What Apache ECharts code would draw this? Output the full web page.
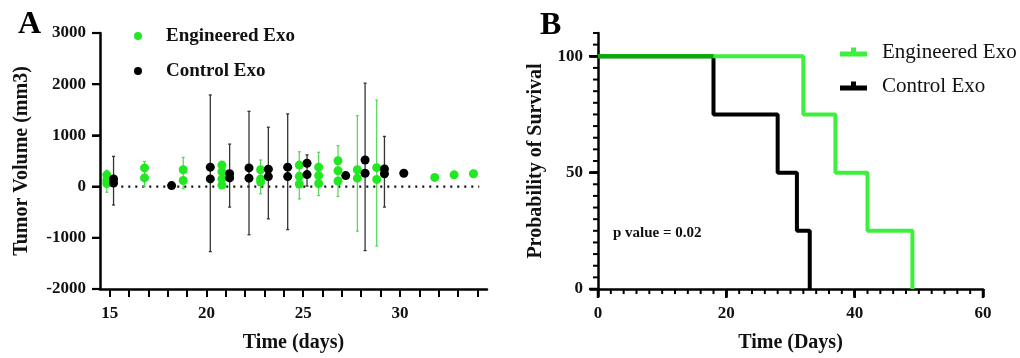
<!DOCTYPE html>
<html>
<head>
<meta charset="utf-8">
<script src="https://cdn.jsdelivr.net/npm/echarts@6/dist/echarts.min.js"></script>
<style>
  html, body { margin: 0; padding: 0; background: #fff; }
  #chart { width: 1020px; height: 358px; }
</style>
</head>
<body>
<div id="chart"></div>
<script>
// Panel A: tumour volume, points [day, mm3]
const engineeredPoints = [
  [14.85, 230], [14.85, 130], [14.85, 60],
  [16.8, 365], [16.8, 170],
  [18.8, 330], [18.8, 120],
  [20.8, 420], [20.8, 290], [20.8, 150], [20.8, 30],
  [22.8, 330], [22.8, 150], [22.8, 90],
  [24.8, 420], [24.8, 200], [24.8, 50],
  [25.8, 380], [25.8, 215], [25.8, 60],
  [26.8, 505], [26.8, 310], [26.8, 110],
  [27.8, 330], [27.8, 165],
  [28.8, 370], [28.8, 140],
  [31.8, 180], [32.8, 230], [33.8, 250]
];
const controlPoints = [
  [15.2, 150], [15.2, 70],
  [18.2, 20],
  [20.2, 380], [20.2, 150],
  [21.2, 250], [21.2, 170],
  [22.2, 365], [22.2, 165],
  [23.2, 340], [23.2, 195],
  [24.2, 380], [24.2, 195],
  [25.2, 455], [25.2, 235],
  [27.2, 215],
  [28.2, 520], [28.2, 260],
  [29.2, 345], [29.2, 250],
  [30.2, 260]
];
// error bars [day, low, high]
const engineeredErrors = [
  [14.85, -110, 320], [16.8, 0, 490], [18.8, -40, 570], [22.8, -140, 520],
  [24.8, -240, 680], [25.8, -175, 670], [26.8, -190, 800],
  [27.8, -870, 1385], [28.8, -1160, 1690]
];
const controlErrors = [
  [15.2, -360, 590], [20.2, -1270, 1790], [21.2, -400, 830], [22.2, -940, 1470],
  [23.2, -630, 1160], [24.2, -840, 1420], [25.2, 10, 620],
  [28.2, -1250, 2020], [29.2, -400, 980]
];
const zeroLineDays = [15.6, 34.1];
const dayTicks = [15, 16, 17, 18, 19, 20, 21, 22, 23, 24, 25, 26, 27, 28, 29, 30, 31, 32, 33, 34];
const dayLabels = [15, 20, 25, 30];
const volumeTicks = [-2000, -1000, 0, 1000, 2000, 3000];

// Panel B: Kaplan-Meier steps
const engineeredTimes = [0, 32, 37, 42, 49];
const engineeredSurvival = [100, 75, 50, 25, 0];
const controlTimes = [0, 18, 28, 31, 33];
const controlSurvival = [100, 75, 50, 25, 0];
const timeTicks = [0, 20, 40, 60];
const timeMinorTicks = [0, 2, 4, 6, 8, 10, 12, 14, 16, 18, 20, 22, 24, 26, 28, 30,
  32, 34, 36, 38, 40, 42, 44, 46, 48, 50, 52, 54, 56, 58, 60];
const survivalLabels = [0, 50, 100];
const survivalMinorTicks = [0, 5, 10, 15, 20, 25, 30, 35, 40, 45, 50, 55, 60, 65, 70, 75,
  80, 85, 90, 95, 100, 105, 110];

const DAY_MIN = 14.5, DAY_MAX = 34.5;
const VOL_MIN = -2000, VOL_MAX = 3000;
const T_MIN = 0, T_MAX = 60;
const S_MIN = 0, S_MAX = 110;

const SERIF = '"Liberation Serif", "DejaVu Serif", serif';
const GREEN = '#22e822';
const KM_GREEN = '#3ef03e';
const KM_OVERLAP = '#08a808';

const pairs = (xs, ys) => xs.map((x, i) => [x, ys[i]]);
const overlapEnd = Math.min(engineeredTimes[1], controlTimes[1]);

function errorBar(color, width) {
  return function (params, api) {
    const x = api.value(0);
    const lo = api.coord([x, api.value(1)]);
    const hi = api.coord([x, api.value(2)]);
    const style = { stroke: color, lineWidth: width };
    return {
      type: 'group',
      children: [
        { type: 'line', shape: { x1: lo[0], y1: lo[1], x2: hi[0], y2: hi[1] }, style },
        { type: 'line', shape: { x1: lo[0] - 1.5, y1: lo[1], x2: lo[0] + 1.5, y2: lo[1] }, style },
        { type: 'line', shape: { x1: hi[0] - 1.5, y1: hi[1], x2: hi[0] + 1.5, y2: hi[1] }, style }
      ]
    };
  };
}

// y ticks and minor x ticks don't render with two grids here, so draw them
// as custom series placed by the axes themselves
function tickSeries(xi, yi, data, dir, len, w) {
  return {
    type: 'custom', xAxisIndex: xi, yAxisIndex: yi, silent: true, clip: false, z: 10,
    data,
    renderItem: (params, api) => {
      const p = api.coord([api.value(0), api.value(1)]);
      const shape = dir === 'left'
        ? { x1: p[0] - len, y1: p[1], x2: p[0], y2: p[1] }
        : { x1: p[0], y1: p[1], x2: p[0], y2: p[1] + len };
      return { type: 'line', shape, style: { stroke: '#000', lineWidth: w } };
    }
  };
}

const axisText = (extra) => Object.assign({ color: '#111', fontFamily: SERIF, fontWeight: 'bold', fontSize: 17, formatter: v => String(v) }, extra);
const nameText = () => ({ color: '#111', fontFamily: SERIF, fontWeight: 'bold', fontSize: 20 });
const blackLine = () => ({ show: true, onZero: false, lineStyle: { color: '#000', width: 2.5 } });
const tick = (values, len, w) => ({ show: true, inside: false, customValues: values, length: len, lineStyle: { color: '#000', width: w } });

const chart = echarts.init(document.getElementById('chart'));

chart.setOption({
  backgroundColor: '#fff',
  animation: false,
  title: [
    { text: 'A', left: 13, top: 4, textStyle: { fontFamily: SERIF, fontWeight: 'bold', fontSize: 32, color: '#000' } },
    { text: 'B', left: 535, top: 5, textStyle: { fontFamily: SERIF, fontWeight: 'bold', fontSize: 32, color: '#000' } }
  ],
  legend: [
    {
      data: [
        { name: 'Engineered Exo', icon: 'circle', itemStyle: { color: GREEN, opacity: 1 } },
        { name: 'Control Exo', icon: 'circle', itemStyle: { color: '#000', opacity: 1 } }
      ],
      orient: 'vertical',
      left: 134, top: 26, padding: 0,
      itemWidth: 8, itemHeight: 8, itemGap: 15,
      selectedMode: false,
      textStyle: { fontFamily: SERIF, fontWeight: 'bold', fontSize: 19, lineHeight: 20, color: '#111', padding: [0, 0, 0, 19] }
    },
    {
      data: [
        { name: 'Engineered Exo ', icon: 'path://M0,4H11V0H16V4H27V9H0Z', itemStyle: { color: KM_GREEN } },
        { name: 'Control Exo ', icon: 'path://M0,4H11V0H16V4H27V9H0Z', itemStyle: { color: '#000' } }
      ],
      orient: 'vertical',
      left: 840, top: 41, padding: 0,
      itemWidth: 27, itemHeight: 9, itemGap: 12,
      selectedMode: false,
      textStyle: { fontFamily: SERIF, fontSize: 21, lineHeight: 22, color: '#111', padding: [0, 0, 0, 10] }
    }
  ],
  grid: [
    { left: 100, top: 33, width: 387, height: 257 },
    { left: 598, top: 33, width: 385, height: 257 }
  ],
  xAxis: [
    {
      gridIndex: 0, type: 'value', min: DAY_MIN, max: DAY_MAX,
      name: 'Time (days)', nameLocation: 'middle', nameGap: 44, nameTextStyle: nameText(),
      axisLine: blackLine(),
      axisTick: tick(dayTicks, 8, 2),
      axisLabel: axisText({ customValues: dayLabels, margin: 16 }),
      splitLine: { show: false }
    },
    {
      gridIndex: 1, type: 'value', min: T_MIN, max: T_MAX, interval: 20,
      name: 'Time (Days)', nameLocation: 'middle', nameGap: 44, nameTextStyle: nameText(),
      axisLine: blackLine(),
      axisTick: tick(timeTicks, 8, 2.5),
      axisLabel: axisText({ customValues: timeTicks, margin: 16 }),
      splitLine: { show: false }
    }
  ],
  yAxis: [
    {
      gridIndex: 0, type: 'value', min: VOL_MIN, max: VOL_MAX, interval: 1000,
      name: 'Tumor Volume (mm3)', nameLocation: 'middle', nameGap: 68, nameTextStyle: nameText(),
      axisLine: blackLine(),
      axisTick: tick(volumeTicks, 8, 2),
      axisLabel: axisText({ customValues: volumeTicks, margin: 14 }),
      splitLine: { show: false }
    },
    {
      gridIndex: 1, type: 'value', min: S_MIN, max: S_MAX, interval: 10,
      name: 'Probability of Survival', nameLocation: 'middle', nameGap: 52, nameTextStyle: nameText(),
      axisLine: blackLine(),
      axisTick: tick(survivalLabels, 8, 2.5),
      axisLabel: axisText({ customValues: survivalLabels, margin: 15 }),
      splitLine: { show: false }
    }
  ],
  graphic: [
    {
      type: 'text', left: 613, top: 226,
      style: { text: 'p value = 0.02', fontFamily: SERIF, fontWeight: 'bold', fontSize: 15, fill: '#111' }
    }
  ],
  series: [
    {
      type: 'line', xAxisIndex: 0, yAxisIndex: 0, symbol: 'none', silent: true,
      data: zeroLineDays.map(d => [d, 0]),
      lineStyle: { color: '#111', width: 2.2, type: [2, 5] }, z: 1
    },
    {
      type: 'custom', xAxisIndex: 0, yAxisIndex: 0, renderItem: errorBar('#4fd84f', 1.2),
      data: engineeredErrors, z: 2
    },
    {
      type: 'custom', xAxisIndex: 0, yAxisIndex: 0, renderItem: errorBar('#333', 1.3),
      data: controlErrors, z: 2
    },
    {
      name: 'Engineered Exo', type: 'scatter', xAxisIndex: 0, yAxisIndex: 0,
      symbolSize: 9, itemStyle: { color: GREEN, opacity: 1 }, data: engineeredPoints, z: 3
    },
    {
      name: 'Control Exo', type: 'scatter', xAxisIndex: 0, yAxisIndex: 0,
      symbolSize: 9, itemStyle: { color: '#000', opacity: 1 }, data: controlPoints, z: 4
    },
    {
      name: 'Control Exo ', type: 'line', xAxisIndex: 1, yAxisIndex: 1, step: 'end',
      symbol: 'none', color: '#000', lineStyle: { color: '#000', width: 4 },
      data: pairs(controlTimes, controlSurvival), z: 3
    },
    {
      name: 'Engineered Exo ', type: 'line', xAxisIndex: 1, yAxisIndex: 1, step: 'end',
      symbol: 'none', color: KM_GREEN, lineStyle: { color: KM_GREEN, width: 4 },
      data: pairs(engineeredTimes, engineeredSurvival), z: 4
    },
    {
      type: 'line', xAxisIndex: 1, yAxisIndex: 1, symbol: 'none', silent: true,
      lineStyle: { color: KM_OVERLAP, width: 4 },
      data: [[0, 100], [overlapEnd, 100]], z: 5
    },
    tickSeries(0, 0, volumeTicks.map(v => [DAY_MIN, v]), 'left', 8, 2.2),
    tickSeries(1, 1, survivalMinorTicks.map(v => [T_MIN, v]), 'left', 5, 2),
    tickSeries(1, 1, survivalLabels.map(v => [T_MIN, v]), 'left', 9, 2.5),
    tickSeries(1, 1, timeMinorTicks.map(v => [v, S_MIN]), 'down', 5, 2),
    tickSeries(1, 1, timeTicks.map(v => [v, S_MIN]), 'down', 9, 2.5)
  ]
});
</script>
</body>
</html>
